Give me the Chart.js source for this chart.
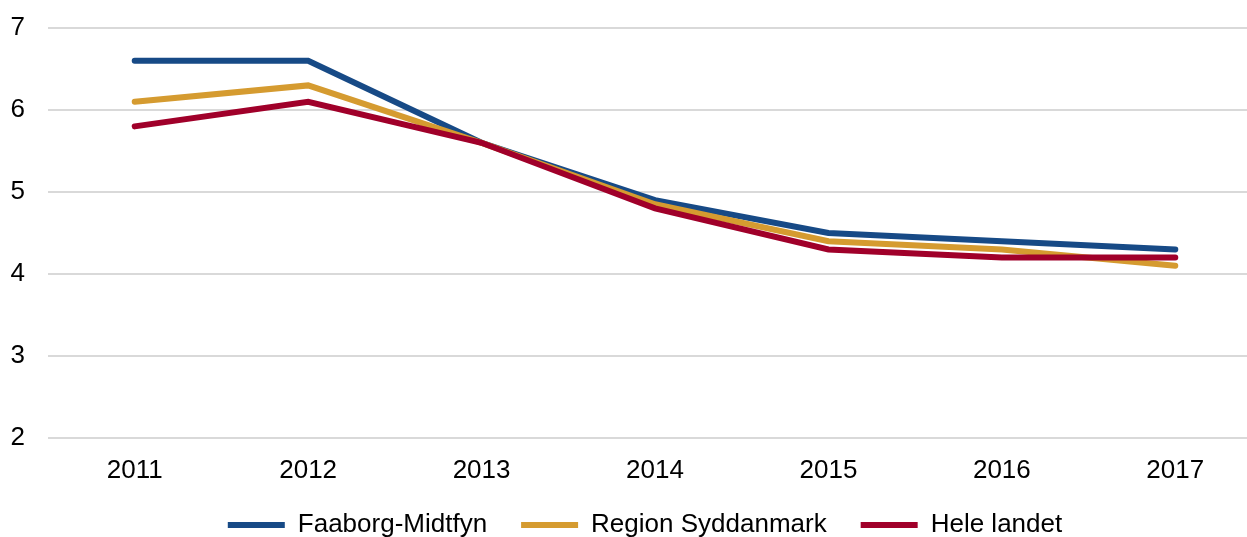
<!DOCTYPE html>
<html>
<head>
<meta charset="utf-8">
<script src="https://cdn.jsdelivr.net/npm/chart.js@4/dist/chart.umd.min.js"></script>
<style>
  html, body { margin: 0; padding: 0; background: #fff; overflow: hidden; }
  #wrap { width: 1262px; height: 548px; position: relative; }
</style>
</head>
<body>
<div id="wrap"><canvas id="c"></canvas></div>
<script>
const categories = ['2011', '2012', '2013', '2014', '2015', '2016', '2017'];
const faaborgMidtfyn = [6.6, 6.6, 5.6, 4.9, 4.5, 4.4, 4.3];
const regionSyddanmark = [6.1, 6.3, 5.6, 4.85, 4.4, 4.3, 4.1];
const heleLandet = [5.8, 6.1, 5.6, 4.8, 4.3, 4.2, 4.2];
const yMin = 2, yMax = 7, yStep = 1;

const FONT = 'Liberation Sans, Arial, sans-serif';

function ds(label, data, color) {
  return {
    label: label, data: data, borderColor: color, backgroundColor: color,
    borderWidth: 6, pointRadius: 0, pointHoverRadius: 0, tension: 0,
    borderCapStyle: 'round', borderJoinStyle: 'miter', fill: false
  };
}

const legendShift = {
  id: 'legendShift',
  afterLayout: function (chart) {
    if (chart.legend) { chart.legend.left += 14; chart.legend.right += 14; }
  }
};

new Chart(document.getElementById('c'), {
  type: 'line',
  data: {
    labels: categories,
    datasets: [
      ds('Hele landet', heleLandet, '#A0002A'),
      ds('Region Syddanmark', regionSyddanmark, '#D59B30'),
      ds('Faaborg-Midtfyn', faaborgMidtfyn, '#174A86')
    ]
  },
  plugins: [legendShift],
  options: {
    responsive: true,
    maintainAspectRatio: false,
    animation: false,
    layout: { padding: { top: 28, left: 0, right: 0, bottom: 0 } },
    plugins: {
      tooltip: { enabled: false },
      legend: {
        position: 'bottom',
        reverse: true,
        labels: {
          font: { family: FONT, size: 26 },
          color: '#000',
          boxWidth: 57,
          boxHeight: 6,
          padding: 34,
          generateLabels: function (chart) {
            return chart.data.datasets.map(function (d, i) {
              return {
                text: d.label, fillStyle: d.borderColor, strokeStyle: d.borderColor,
                lineWidth: 0, hidden: false, datasetIndex: i, fontColor: '#000'
              };
            });
          }
        }
      }
    },
    scales: {
      x: {
        offset: true,
        afterFit: function (s) { s.height = 40; },
        grid: { display: false, drawTicks: false },
        border: { display: false },
        ticks: { font: { family: FONT, size: 26 }, color: '#000', padding: 17, maxRotation: 0 }
      },
      y: {
        min: yMin, max: yMax,
        afterFit: function (s) { s.width = 48; },
        grid: { color: '#d9d9d9', lineWidth: 2, drawTicks: true, tickLength: 23, tickColor: 'rgba(0,0,0,0)' },
        border: { display: false },
        ticks: { stepSize: yStep, font: { family: FONT, size: 26 }, color: '#000', padding: 0 }
      }
    }
  }
});
</script>
</body>
</html>
